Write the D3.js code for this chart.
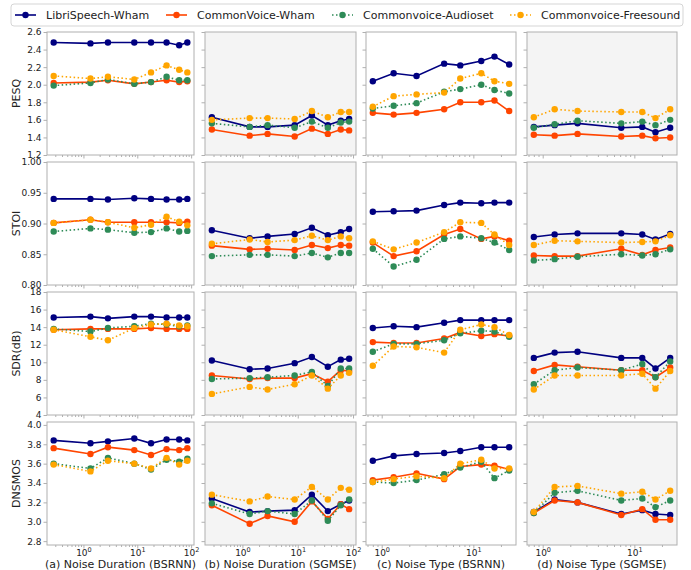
<!DOCTYPE html>
<html>
<head>
<meta charset="utf-8">
<script src="https://cdn.jsdelivr.net/npm/d3@7"></script>
<style>
  body { margin: 0; background: #fff; }
  text { font-family: "DejaVu Sans", sans-serif; }
</style>
</head>
<body>
<svg id="chart" width="691" height="570"></svg>
<script>
const seriesNames = ['LibriSpeech-Wham', 'CommonVoice-Wham', 'Commonvoice-Audioset', 'Commonvoice-Freesound'];
const colors = ['#000080', '#ff4500', '#2e8b57', '#ffa500'];
const dashes = [null, null, '1.5,2.5', '1.5,2.5'];

const metricLabels = ['PESQ', 'STOI', 'SDR(dB)', 'DNSMOS'];
const panelTitles = ['(a) Noise Duration (BSRNN)', '(b) Noise Duration (SGMSE)', '(c) Noise Type (BSRNN)', '(d) Noise Type (SGMSE)'];

// x values per column
const durX = [0.28, 1.35, 2.85, 8.8, 18, 35, 60, 85];
const typeX = [0.8, 1.35, 2.4, 4.8, 7.2, 12.2, 17, 24.6];
const typeXSgmse = [0.8, 1.35, 2.4, 7.2, 12.2, 17, 24.6];

// y ticks per row
const pesqTicks = [1.2, 1.4, 1.6, 1.8, 2.0, 2.2, 2.4, 2.6];
const stoiTicks = [0.80, 0.85, 0.90, 0.95, 1.00];
const sdrTicks = [4, 6, 8, 10, 12, 14, 16, 18];
const dnsmosTicks = [2.8, 3.0, 3.2, 3.4, 3.6, 3.8, 4.0];

// each array: [LibriSpeech-Wham, CommonVoice-Wham, Commonvoice-Audioset, Commonvoice-Freesound]
const pesqA = [
  [2.48, 2.47, 2.48, 2.48, 2.48, 2.48, 2.45, 2.48],
  [2.02, 2.03, 2.05, 2.01, 2.03, 2.05, 2.03, 2.04],
  [1.99, 2.02, 2.06, 2.01, 2.03, 2.09, 2.05, 2.05],
  [2.10, 2.07, 2.09, 2.06, 2.14, 2.22, 2.17, 2.14]];
const pesqB = [
  [1.63, 1.52, 1.52, 1.54, 1.65, 1.54, 1.59, 1.61],
  [1.49, 1.42, 1.44, 1.41, 1.50, 1.44, 1.49, 1.48],
  [1.56, 1.52, 1.54, 1.51, 1.58, 1.51, 1.57, 1.58],
  [1.60, 1.62, 1.62, 1.61, 1.70, 1.63, 1.69, 1.69]];
const pesqC = [
  [2.04, 2.13, 2.10, 2.24, 2.22, 2.27, 2.32, 2.23],
  [1.68, 1.66, 1.68, 1.72, 1.80, 1.80, 1.82, 1.70],
  [1.73, 1.76, 1.79, 1.92, 1.95, 2.00, 1.94, 1.90],
  [1.75, 1.87, 1.89, 1.91, 2.07, 2.13, 2.04, 2.01]];
const pesqD = [
  [1.52, 1.54, 1.56, 1.51, 1.52, 1.46, 1.51],
  [1.43, 1.42, 1.44, 1.41, 1.42, 1.39, 1.40],
  [1.51, 1.55, 1.59, 1.56, 1.58, 1.54, 1.60],
  [1.63, 1.72, 1.70, 1.69, 1.69, 1.62, 1.72]];

const stoiA = [
  [0.940, 0.940, 0.939, 0.941, 0.940, 0.939, 0.939, 0.940],
  [0.901, 0.906, 0.902, 0.902, 0.902, 0.902, 0.901, 0.903],
  [0.887, 0.892, 0.890, 0.885, 0.886, 0.892, 0.887, 0.888],
  [0.901, 0.906, 0.902, 0.893, 0.898, 0.911, 0.903, 0.897]];
const stoiB = [
  [0.889, 0.876, 0.879, 0.883, 0.893, 0.881, 0.886, 0.891],
  [0.864, 0.858, 0.859, 0.857, 0.865, 0.860, 0.865, 0.864],
  [0.847, 0.849, 0.849, 0.847, 0.852, 0.845, 0.852, 0.852],
  [0.867, 0.874, 0.870, 0.873, 0.880, 0.873, 0.879, 0.876]];
const stoiC = [
  [0.919, 0.920, 0.921, 0.930, 0.934, 0.933, 0.934, 0.934],
  [0.869, 0.847, 0.855, 0.882, 0.891, 0.875, 0.879, 0.872],
  [0.859, 0.830, 0.841, 0.875, 0.879, 0.876, 0.869, 0.857],
  [0.871, 0.858, 0.869, 0.886, 0.902, 0.901, 0.882, 0.865]];
const stoiD = [
  [0.878, 0.882, 0.884, 0.884, 0.882, 0.874, 0.883],
  [0.848, 0.847, 0.847, 0.859, 0.849, 0.857, 0.861],
  [0.840, 0.842, 0.846, 0.850, 0.848, 0.850, 0.858],
  [0.865, 0.872, 0.871, 0.869, 0.870, 0.871, 0.881]];

const sdrA = [
  [15.1, 15.2, 15.0, 15.2, 15.2, 15.1, 15.1, 15.1],
  [13.7, 13.8, 13.8, 13.8, 13.9, 13.8, 13.8, 13.8],
  [13.8, 13.5, 13.9, 14.1, 14.4, 14.3, 14.1, 14.2],
  [13.7, 12.9, 12.5, 13.9, 14.3, 14.4, 14.2, 14.1]];
const sdrB = [
  [10.2, 9.2, 9.3, 9.9, 10.6, 9.5, 10.3, 10.4],
  [8.5, 8.1, 8.2, 8.2, 8.7, 7.8, 9.1, 9.0],
  [8.1, 8.2, 8.3, 8.5, 8.9, 7.3, 9.3, 9.3],
  [6.4, 7.2, 6.9, 7.5, 8.5, 7.0, 8.5, 8.8]];
const sdrC = [
  [13.9, 14.1, 14.0, 14.5, 14.8, 14.8, 14.8, 14.8],
  [12.3, 12.2, 12.2, 12.7, 13.4, 13.0, 13.2, 13.0],
  [11.2, 12.1, 12.1, 12.5, 13.3, 13.6, 13.5, 12.9],
  [9.6, 11.8, 11.7, 11.1, 13.7, 14.3, 14.0, 13.1]];
const sdrD = [
  [10.5, 11.1, 11.2, 10.5, 10.5, 9.3, 10.5],
  [9.0, 9.7, 9.5, 9.1, 9.1, 8.3, 9.4],
  [7.5, 9.1, 9.4, 9.1, 9.8, 8.3, 10.1],
  [6.9, 8.5, 8.5, 8.5, 8.7, 7.0, 9.0]];

const dnsmosA = [
  [3.84, 3.81, 3.83, 3.86, 3.81, 3.85, 3.85, 3.84],
  [3.76, 3.70, 3.77, 3.74, 3.69, 3.75, 3.74, 3.76],
  [3.60, 3.55, 3.66, 3.60, 3.54, 3.64, 3.62, 3.65],
  [3.59, 3.52, 3.63, 3.60, 3.55, 3.66, 3.59, 3.63]];
const dnsmosB = [
  [3.24, 3.10, 3.11, 3.12, 3.28, 3.11, 3.18, 3.22],
  [3.17, 2.98, 3.06, 3.00, 3.21, 3.03, 3.18, 3.13],
  [3.19, 3.08, 3.11, 3.08, 3.22, 3.01, 3.17, 3.23],
  [3.28, 3.21, 3.26, 3.23, 3.36, 3.23, 3.35, 3.33]];
const dnsmosC = [
  [3.63, 3.68, 3.70, 3.71, 3.73, 3.77, 3.77, 3.77],
  [3.43, 3.46, 3.50, 3.44, 3.57, 3.59, 3.58, 3.54],
  [3.41, 3.40, 3.43, 3.49, 3.56, 3.62, 3.45, 3.53],
  [3.41, 3.44, 3.47, 3.45, 3.60, 3.64, 3.55, 3.55]];
const dnsmosD = [
  [3.10, 3.23, 3.20, 3.08, 3.12, 3.08, 3.07],
  [3.09, 3.22, 3.20, 3.07, 3.13, 3.02, 3.02],
  [3.09, 3.30, 3.32, 3.22, 3.24, 3.15, 3.22],
  [3.10, 3.36, 3.37, 3.29, 3.31, 3.23, 3.32]];

const grid = [
  [pesqA, pesqB, pesqC, pesqD],
  [stoiA, stoiB, stoiC, stoiD],
  [sdrA, sdrB, sdrC, sdrD],
  [dnsmosA, dnsmosB, dnsmosC, dnsmosD]];
const colX = [durX, durX, typeX, typeXSgmse];
const rowTicks = [pesqTicks, stoiTicks, sdrTicks, dnsmosTicks];
const yDomains = [[1.2, 2.6], [0.8, 1.0], [4, 18], [2.76, 4.03]];
const yFormats = [d3.format('.1f'), d3.format('.2f'), d3.format('d'), d3.format('.1f')];

const colLeft = [47, 205, 366, 527];
const colRight = [194, 356, 516, 677];
const rowTop = [32, 162, 292, 422];
const rowH = 123;
const frameColor = '#b0b0b0';

const svg = d3.select('#chart');

// matplotlib-like 5% margin on log axis
function logDomain(vals) {
  const [a, b] = d3.extent(vals).map(Math.log10);
  const p = (b - a) * 0.05;
  return [Math.pow(10, a - p), Math.pow(10, b + p)];
}
const domAB = logDomain(durX);
const domCD = logDomain(typeX);
const xDomains = [domAB, domAB, domCD, domCD];

function minorTicks(dom) {
  const out = [];
  for (let k = Math.floor(Math.log10(dom[0])); k <= Math.ceil(Math.log10(dom[1])); k++) {
    for (let m = 2; m <= 9; m++) {
      const v = m * Math.pow(10, k);
      if (v >= dom[0] && v <= dom[1]) out.push(v);
    }
  }
  return out;
}
function majorTicks(dom) {
  const out = [];
  for (let k = Math.ceil(Math.log10(dom[0])); Math.pow(10, k) <= dom[1]; k++) out.push(Math.pow(10, k));
  return out;
}

for (let r = 0; r < 4; r++) {
  for (let c = 0; c < 4; c++) {
    const x = d3.scaleLog().domain(xDomains[c]).range([colLeft[c], colRight[c]]);
    const y = d3.scaleLinear().domain(yDomains[r]).range([rowTop[r] + rowH, rowTop[r]]);
    const g = svg.append('g');

    g.append('rect')
      .attr('x', colLeft[c]).attr('y', rowTop[r])
      .attr('width', colRight[c] - colLeft[c]).attr('height', rowH)
      .attr('fill', (c === 1 || c === 3) ? '#f4f4f4' : '#fff');

    // y axis
    const yAxis = d3.axisLeft(y).tickValues(rowTicks[r]).tickSize(3.5).tickSizeOuter(0)
      .tickPadding(2).tickFormat(c === 0 ? yFormats[r] : '');
    const ya = g.append('g').attr('transform', `translate(${colLeft[c]},0)`).call(yAxis);
    ya.select('.domain').remove();
    ya.selectAll('line').attr('stroke', frameColor);
    ya.selectAll('text').attr('font-size', 9).attr('fill', '#222')
      .style('font-family', '"DejaVu Sans", sans-serif');

    // x axis major + minor
    const xb = rowTop[r] + rowH;
    const xMinor = g.append('g').attr('transform', `translate(0,${xb})`)
      .call(d3.axisBottom(x).tickValues(minorTicks(xDomains[c])).tickSize(2).tickSizeOuter(0).tickFormat(''));
    xMinor.select('.domain').remove();
    xMinor.selectAll('line').attr('stroke', frameColor);

    const xMajor = g.append('g').attr('transform', `translate(0,${xb})`)
      .call(d3.axisBottom(x).tickValues(majorTicks(xDomains[c])).tickSize(3.5).tickSizeOuter(0)
        .tickPadding(3).tickFormat(''));
    xMajor.select('.domain').remove();
    xMajor.selectAll('line').attr('stroke', frameColor);
    if (r === 3) {
      xMajor.selectAll('.tick').each(function (d) {
        const t = d3.select(this).append('text')
          .attr('y', 10.5).attr('text-anchor', 'middle').attr('fill', '#222').attr('font-size', 9);
        t.append('tspan').text('10');
        t.append('tspan').attr('font-size', 6.5).attr('dy', -3.5).text(String(Math.round(Math.log10(d))));
      });
    }

    // frame
    g.append('rect')
      .attr('x', colLeft[c]).attr('y', rowTop[r])
      .attr('width', colRight[c] - colLeft[c]).attr('height', rowH)
      .attr('fill', 'none').attr('stroke', frameColor).attr('stroke-width', 1);

    // series
    const xs = colX[c];
    grid[r][c].forEach((vals, s) => {
      const line = d3.line().x((d, i) => x(xs[i])).y(d => y(d));
      g.append('path').datum(vals)
        .attr('fill', 'none').attr('stroke', colors[s]).attr('stroke-width', 1.6)
        .attr('stroke-dasharray', dashes[s]).attr('d', line);
      g.selectAll(null).data(vals).enter().append('circle')
        .attr('cx', (d, i) => x(xs[i])).attr('cy', d => y(d)).attr('r', 3.2)
        .attr('fill', colors[s]);
    });
  }

  svg.append('text')
    .attr('transform', `translate(20,${rowTop[r] + rowH / 2}) rotate(-90)`)
    .attr('text-anchor', 'middle').attr('font-size', 11).attr('fill', '#222')
    .text(metricLabels[r]);
}

panelTitles.forEach((t, c) => {
  svg.append('text')
    .attr('x', (colLeft[c] + colRight[c]) / 2).attr('y', 567.5)
    .attr('text-anchor', 'middle').attr('font-size', 11).attr('fill', '#222')
    .text(t);
});

// legend
const legend = svg.append('g');
legend.append('rect')
  .attr('x', 11).attr('y', 4).attr('width', 672).attr('height', 22).attr('rx', 3)
  .attr('fill', '#fff').attr('stroke', '#d5d5d5');
const legX = [15, 166, 332, 510];
seriesNames.forEach((n, s) => {
  legend.append('line')
    .attr('x1', legX[s]).attr('x2', legX[s] + 21).attr('y1', 15).attr('y2', 15)
    .attr('stroke', colors[s]).attr('stroke-width', 1.6).attr('stroke-dasharray', dashes[s]);
  legend.append('circle').attr('cx', legX[s] + 10.5).attr('cy', 15).attr('r', 3.2).attr('fill', colors[s]);
  legend.append('text').attr('x', legX[s] + 31).attr('y', 19)
    .attr('font-size', 11).attr('fill', '#222').text(n);
});
</script>
</body>
</html>
